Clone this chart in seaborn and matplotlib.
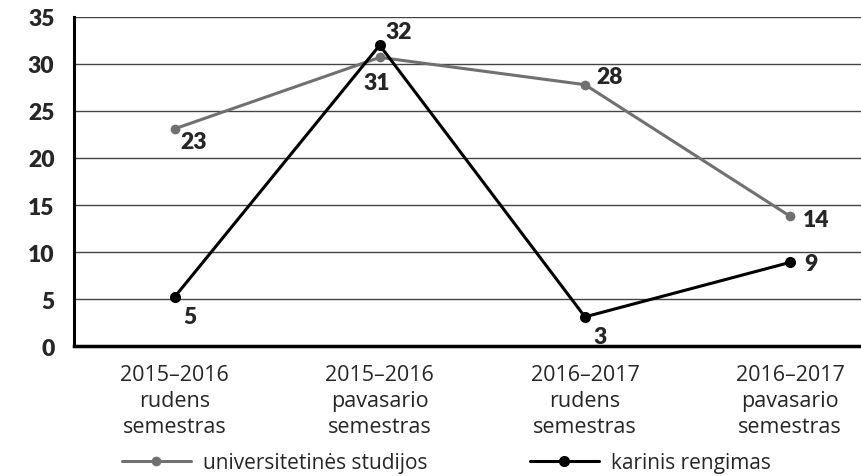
import matplotlib
matplotlib.use("Agg")
import matplotlib.pyplot as plt
import seaborn as sns
import pandas as pd

categories = ["2015–2016\nrudens\nsemestras", "2015–2016\npavasario\nsemestras",
              "2016–2017\nrudens\nsemestras", "2016–2017\npavasario\nsemestras"]
studijos = [23.1, 30.7, 27.8, 13.8]
rengimas = [5.2, 32.0, 3.1, 8.9]
studijos_labels = ["23", "31", "28", "14"]
rengimas_labels = ["5", "32", "3", "9"]
y_ticks = [0, 5, 10, 15, 20, 25, 30, 35]

sns.set_style("white")
plt.rcParams["font.family"] = ["Open Sans", "DejaVu Sans"]
bold_font = ["Lato", "DejaVu Sans"]

df = pd.DataFrame({
    "x": list(range(4)) * 2,
    "v": studijos + rengimas,
    "serija": ["universitetinės studijos"] * 4 + ["karinis rengimas"] * 4,
})

fig = plt.figure(figsize=(8.62, 4.77), dpi=100)
ax = fig.add_axes([0.0858, 0.2725, 0.9142, 0.6898])

sns.lineplot(data=df[df.serija == "universitetinės studijos"], x="x", y="v", ax=ax,
             color="#707070", lw=2.2, marker="o", markersize=7, markeredgewidth=0,
             label="universitetinės studijos", legend=False)
sns.lineplot(data=df[df.serija == "karinis rengimas"], x="x", y="v", ax=ax,
             color="#000000", lw=2.2, marker="o", markersize=8, markeredgewidth=0,
             label="karinis rengimas", legend=False)

ax.set_xlim(-0.49, 3.35)
ax.set_ylim(0, 35)
ax.set_yticks(y_ticks)
ax.set_xticks(range(4))
ax.set_xticklabels(categories, fontsize=15.5, linespacing=1.3)
for t in ax.get_yticklabels():
    t.set_fontfamily(bold_font)
    t.set_fontweight("heavy")
    t.set_fontsize(16.5)
ax.tick_params(axis="x", length=0, pad=13)
ax.tick_params(axis="y", length=9, width=1, color="#444444", pad=5)
ax.grid(axis="y", color="#444444", lw=1)
ax.set_axisbelow(True)
ax.set_xlabel("")
ax.set_ylabel("")
for s in ["top", "right"]:
    ax.spines[s].set_visible(False)
ax.spines["left"].set_linewidth(2.2)
ax.spines["bottom"].set_linewidth(2.5)
ax.spines["left"].set_color("black")
ax.spines["bottom"].set_color("black")

lab_kw = dict(textcoords="offset points", fontfamily=bold_font, fontweight="heavy", fontsize=16.5)
offs_s = [(4, -9), (-12, -18), (8, 6), (9, -2)]
offs_r = [(6, -14), (4, 10), (6, -14), (10, -1)]
for i in range(4):
    ax.annotate(studijos_labels[i], (i, studijos[i]), xytext=offs_s[i], ha="left", va="center", **lab_kw)
    ax.annotate(rengimas_labels[i], (i, rengimas[i]), xytext=offs_r[i], ha="left", va="center", **lab_kw)

h, l = ax.get_legend_handles_labels()
fig.legend(h, l, loc="lower center", bbox_to_anchor=(0.518, -0.034), ncol=2, frameon=False,
           fontsize=15, handlelength=3.3, handletextpad=0.6, columnspacing=4.9)

fig.savefig("out.png", dpi=100)
